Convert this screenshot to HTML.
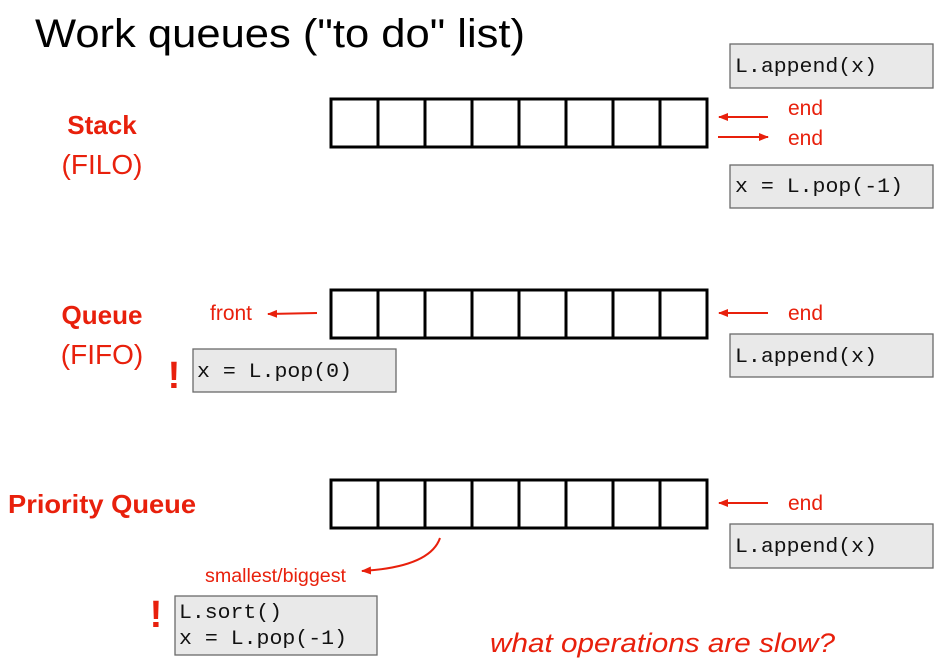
<!DOCTYPE html>
<html><head><meta charset="utf-8"><style>
html,body{margin:0;padding:0;background:#fff;}
svg{display:block}
.r{fill:#e8200c;font-family:"Liberation Sans",sans-serif;}
.c{font-family:"Liberation Mono",monospace;font-size:20px;fill:#111;}
.bx{fill:#e9e9e9;stroke:#6a6a6a;stroke-width:1.3}
.cell{fill:#fff;stroke:#000;stroke-width:3}
.ar{stroke:#e8200c;stroke-width:2;fill:none}
</style></head><body>
<svg width="942" height="664" viewBox="0 0 942 664" xmlns="http://www.w3.org/2000/svg">
<defs><marker id="a" viewBox="0 0 10 10" refX="9" refY="5" markerWidth="5" markerHeight="5" orient="auto"><path d="M0,1 L10,5 L0,9 z" fill="#e8200c"/></marker></defs>
<text x="35" y="47" font-family="Liberation Sans,sans-serif" font-size="40" fill="#000" textLength="490" lengthAdjust="spacingAndGlyphs">Work queues ("to do" list)</text>

<g id="arr">
<rect class="cell" x="331" y="99" width="376" height="48"/>
<path d="M378 99V147M425 99V147M472 99V147M519 99V147M566 99V147M613 99V147M660 99V147" stroke="#000" stroke-width="3"/>
</g>
<use href="#arr" y="191"/>
<use href="#arr" y="381"/>

<text class="r" x="102" y="134" font-size="26" font-weight="bold" text-anchor="middle">Stack</text>
<text class="r" x="102" y="174" font-size="28" text-anchor="middle">(FILO)</text>
<text class="r" x="102" y="324" font-size="26" font-weight="bold" text-anchor="middle">Queue</text>
<text class="r" x="102" y="364" font-size="28" text-anchor="middle">(FIFO)</text>
<text class="r" x="8" y="513" font-size="26" font-weight="bold" textLength="188" lengthAdjust="spacingAndGlyphs">Priority Queue</text>

<rect class="bx" x="730" y="44" width="203" height="44"/>
<text class="c" x="735" y="72" textLength="142" lengthAdjust="spacingAndGlyphs">L.append(x)</text>
<rect class="bx" x="730" y="165" width="203" height="43"/>
<text class="c" x="735" y="192" textLength="168" lengthAdjust="spacingAndGlyphs">x = L.pop(-1)</text>
<line class="ar" x1="768" y1="117" x2="719" y2="117" marker-end="url(#a)"/>
<line class="ar" x1="718" y1="137" x2="768" y2="137" marker-end="url(#a)"/>
<text class="r" x="788" y="115" font-size="21">end</text>
<text class="r" x="788" y="145" font-size="21">end</text>

<text class="r" x="210" y="320" font-size="21">front</text>
<line class="ar" x1="317" y1="313" x2="268" y2="314" marker-end="url(#a)"/>
<line class="ar" x1="768" y1="313" x2="719" y2="313" marker-end="url(#a)"/>
<text class="r" x="788" y="320" font-size="21">end</text>
<rect class="bx" x="193" y="349" width="203" height="43"/>
<text class="c" x="197" y="377" textLength="155" lengthAdjust="spacingAndGlyphs">x = L.pop(0)</text>
<rect class="bx" x="730" y="334" width="203" height="43"/>
<text class="c" x="735" y="362" textLength="142" lengthAdjust="spacingAndGlyphs">L.append(x)</text>
<text class="r" x="174" y="388" font-size="38" font-weight="bold" text-anchor="middle">!</text>

<line class="ar" x1="768" y1="503" x2="719" y2="503" marker-end="url(#a)"/>
<text class="r" x="788" y="510" font-size="21">end</text>
<rect class="bx" x="730" y="524" width="203" height="44"/>
<text class="c" x="735" y="552" textLength="142" lengthAdjust="spacingAndGlyphs">L.append(x)</text>
<path class="ar" d="M440 538 Q430 567 362 571" marker-end="url(#a)"/>
<text class="r" x="205" y="582" font-size="19" textLength="141" lengthAdjust="spacingAndGlyphs">smallest/biggest</text>
<rect class="bx" x="175" y="596" width="202" height="59"/>
<text class="c" x="179" y="618" textLength="103" lengthAdjust="spacingAndGlyphs">L.sort()</text>
<text class="c" x="179" y="644" textLength="168" lengthAdjust="spacingAndGlyphs">x = L.pop(-1)</text>
<text class="r" x="156" y="627" font-size="38" font-weight="bold" text-anchor="middle">!</text>

<text class="r" x="490" y="652" font-size="27" font-style="italic" textLength="345" lengthAdjust="spacingAndGlyphs">what operations are slow?</text>
</svg>
</body></html>
